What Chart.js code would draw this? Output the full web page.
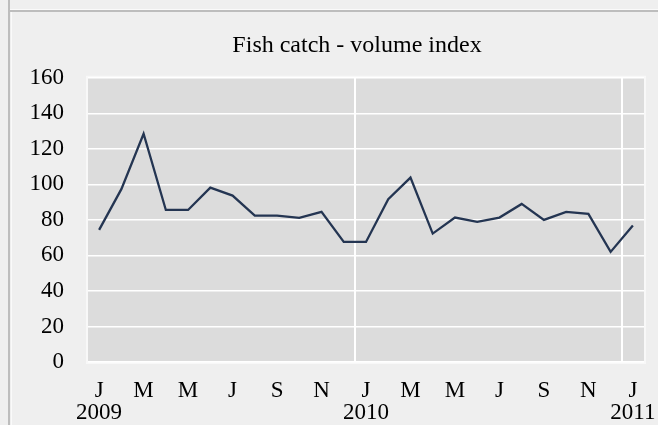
<!DOCTYPE html>
<html>
<head>
<meta charset="utf-8">
<script src="https://cdn.jsdelivr.net/npm/chart.js@4/dist/chart.umd.min.js"></script>
<style>
  html, body { margin: 0; padding: 0; background: #efefef; }
  #wrap { width: 658px; height: 425px; }
</style>
</head>
<body>
<div id="wrap"><canvas id="grafica" width="658" height="425"></canvas></div>
<script>
// months Jan 2009 .. Jan 2011
const meses = ['J','F','M','A','M','J','J','A','S','O','N','D',
               'J','F','M','A','M','J','J','A','S','O','N','D','J'];
const anios = { 0: '2009', 12: '2010', 24: '2011' };
const indice = [74.4, 97.3, 128.5, 85.6, 85.6, 98.2, 93.7, 82.4, 82.4, 81.1, 84.5, 67.6,
                67.6, 91.7, 103.8, 72.3, 81.3, 78.9, 81.3, 89.0, 80.0, 84.5, 83.4, 62.0,
                76.8];
const ticksY = [0, 20, 40, 60, 80, 100, 120, 140, 160];

const fuente = 'Liberation Serif, Times New Roman, serif';

// background, frame and plot area fill
const fondo = {
    id: 'fondo',
    beforeDraw(chart) {
        const ctx = chart.ctx;
        const a = chart.chartArea;
        ctx.save();
        ctx.fillStyle = '#efefef';
        ctx.fillRect(0, 0, chart.width, chart.height);
        ctx.fillStyle = '#fafafa';
        ctx.fillRect(10, 9, chart.width - 10, 1);
        ctx.fillRect(11, 12, 1, chart.height - 12);
        ctx.fillStyle = '#bdbdbd';
        ctx.fillRect(8, 0, 2, chart.height);
        ctx.fillRect(10, 10, chart.width - 10, 2);
        ctx.fillStyle = '#dcdcdc';
        ctx.fillRect(a.left, a.top, a.right - a.left, a.bottom - a.top);
        ctx.strokeStyle = '#f8f8f8';
        ctx.lineWidth = 2;
        ctx.strokeRect(a.left - 1, a.top - 1, a.right - a.left + 2, a.bottom - a.top + 2);
        ctx.restore();
    }
};

new Chart(document.getElementById('grafica').getContext('2d'), {
    type: 'line',
    data: {
        labels: meses,
        datasets: [{
            data: indice,
            borderColor: '#243552',
            borderWidth: 2.3,
            pointRadius: 0,
            tension: 0,
            fill: false
        }]
    },
    options: {
        responsive: false,
        animation: false,
        layout: { padding: { top: 20, left: 12, right: 14, bottom: 0 } },
        plugins: {
            legend: { display: false },
            tooltip: { enabled: false },
            title: {
                display: true,
                // trailing spaces nudge the centred title a bit to the left
                text: 'Fish catch - volume index   ',
                fullSize: false,
                color: '#000',
                font: { family: fuente, size: 24, weight: 'normal' },
                padding: { top: 11, bottom: 18 }
            }
        },
        scales: {
            x: {
                offset: true,
                border: { display: false },
                grid: {
                    offset: true,
                    drawTicks: false,
                    lineWidth: 2,
                    color: c => (c.index === 12 || c.index === 24) ? '#ffffff' : 'rgba(0,0,0,0)'
                },
                ticks: {
                    autoSkip: false,
                    maxRotation: 0,
                    minRotation: 0,
                    padding: 18,
                    color: '#000',
                    font: { family: fuente, size: 23, lineHeight: 0.96 },
                    callback: function (v, i) {
                        if (i % 2 !== 0) return '';
                        const m = meses[i];
                        return anios[i] ? [m, anios[i]] : m;
                    }
                },
                afterFit: s => { s.height = 63; s.paddingLeft = 0; s.paddingRight = 0; }
            },
            y: {
                min: 0,
                max: 160,
                border: { display: false },
                grid: { color: '#ffffff', lineWidth: 1.5, drawTicks: false },
                afterBuildTicks: s => { s.ticks = ticksY.map(v => ({ value: v })); },
                ticks: {
                    padding: 24,
                    color: '#000',
                    font: { family: fuente, size: 23 }
                },
                afterFit: s => { s.width = 76; }
            }
        }
    },
    plugins: [fondo]
});
</script>
</body>
</html>
